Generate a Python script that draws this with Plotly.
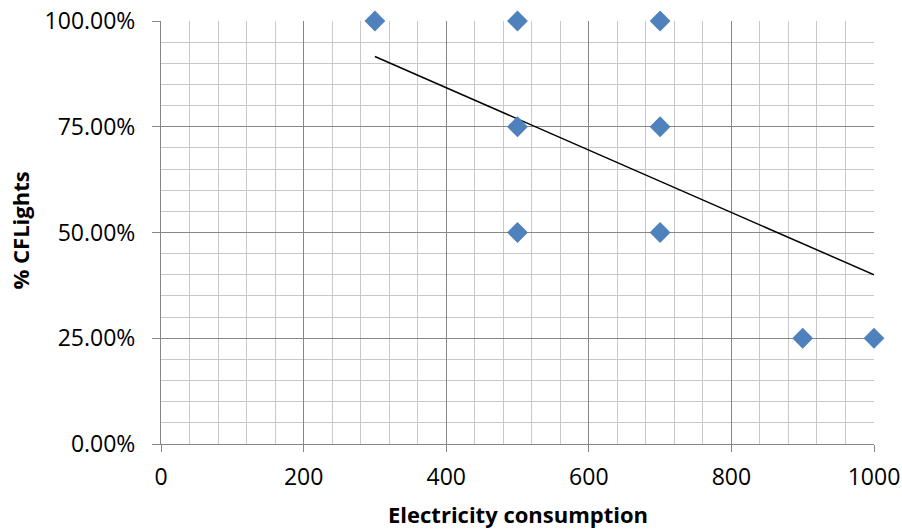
import plotly.graph_objects as go

# Data
electricity = [300, 500, 700, 500, 700, 500, 700, 900, 1000]
cf_lights = [1.00, 1.00, 1.00, 0.75, 0.75, 0.50, 0.50, 0.25, 0.25]
trend_x = [300, 1000]
trend_y = [0.916, 0.400]

FONT = "Open Sans"
MAJOR = "#868686"
MINOR = "#c8c8c8"

fig = go.Figure()
fig.add_trace(go.Scatter(
    x=trend_x, y=trend_y, mode="lines",
    line=dict(color="black", width=1.5), showlegend=False, hoverinfo="skip"))
fig.add_trace(go.Scatter(
    x=electricity, y=cf_lights, mode="markers",
    marker=dict(symbol="diamond", size=16, color="#4F81BD", line=dict(width=0)),
    cliponaxis=False, showlegend=False))

fig.update_layout(
    width=902, height=531,
    margin=dict(l=161, r=28, t=21, b=87, autoexpand=False),
    paper_bgcolor="white", plot_bgcolor="white",
    font=dict(family=FONT, size=23, color="black"),
)
fig.update_xaxes(
    range=[0, 1000], tick0=0, dtick=200, automargin=False,
    showgrid=True, gridcolor=MAJOR, gridwidth=1,
    minor=dict(dtick=40, showgrid=True, gridcolor=MINOR, gridwidth=1),
    showline=True, linecolor=MAJOR, linewidth=1,
    ticks="outside", ticklen=7, tickcolor=MAJOR, ticklabelstandoff=5,
    zeroline=False,
)
fig.update_yaxes(
    range=[0, 1], tick0=0, dtick=0.25, tickformat=".2%", automargin=False,
    showgrid=True, gridcolor=MAJOR, gridwidth=1,
    minor=dict(dtick=0.05, showgrid=True, gridcolor=MINOR, gridwidth=1),
    showline=True, linecolor=MAJOR, linewidth=1,
    ticks="outside", ticklen=8, tickcolor=MAJOR, ticklabelstandoff=12,
    zeroline=False,
)
fig.add_annotation(
    text="<b>Electricity consumption</b>", xref="paper", yref="paper",
    x=0.5, y=0, yshift=-86, showarrow=False, xanchor="center", yanchor="bottom",
    borderpad=0, font=dict(family=FONT, size=22))
fig.add_annotation(
    text="<b>% CFLights</b>", xref="paper", yref="paper",
    x=0, xshift=-142, y=0.5, yshift=2, showarrow=False, textangle=-90,
    xanchor="center", yanchor="middle",
    font=dict(family=FONT, size=22))

fig.write_html(
    "out.html",
    config={"displayModeBar": False},
    post_script="document.body.style.margin='0';document.body.style.overflow='hidden';")
